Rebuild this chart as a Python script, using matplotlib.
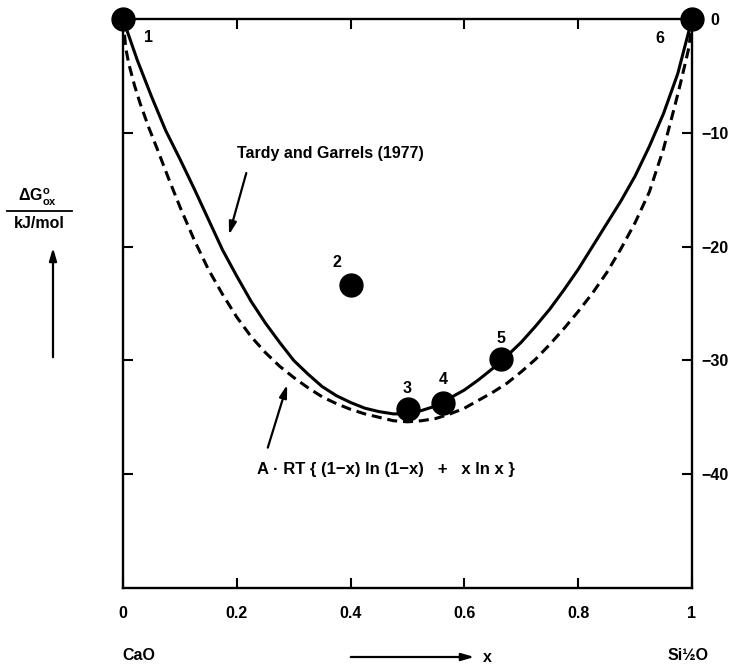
import matplotlib.pyplot as plt
from matplotlib.lines import Line2D

plt.rcParams['font.family'] = ['Liberation Sans', 'DejaVu Sans']
plt.rcParams['font.weight'] = 'bold'

# measured points 1..6
pt_x = [0.0, 0.40, 0.50, 0.562, 0.664, 1.0]
pt_g = [0.0, -23.4, -34.3, -33.7, -29.9, 0.0]
pt_lab = ['1', '2', '3', '4', '5', '6']

# Tardy and Garrels (1977), solid
tg_x = [0.0, 0.025, 0.05, 0.075, 0.10, 0.125, 0.15, 0.175, 0.20, 0.225, 0.25, 0.275, 0.30,
        0.325, 0.35, 0.375, 0.40, 0.425, 0.45, 0.475, 0.50, 0.525, 0.55, 0.575, 0.60, 0.625,
        0.65, 0.675, 0.70, 0.725, 0.75, 0.775, 0.80, 0.825, 0.85, 0.875, 0.90, 0.925, 0.95,
        0.975, 1.0]
tg_g = [0.0, -3.6, -6.8, -9.8, -12.3, -14.9, -17.6, -20.3, -22.6, -24.8, -26.7, -28.4, -30.0,
        -31.2, -32.3, -33.1, -33.7, -34.2, -34.5, -34.7, -34.7, -34.4, -34.0, -33.3, -32.6, -31.7,
        -30.7, -29.6, -28.4, -27.0, -25.5, -23.8, -22.0, -20.0, -18.0, -16.0, -13.8, -11.2, -8.3,
        -4.8, 0.0]

# A*RT{...} curve, dashed
id_x = [0.0, 0.005, 0.01, 0.02, 0.03, 0.045, 0.06, 0.08, 0.10, 0.125, 0.15, 0.175, 0.20,
        0.225, 0.25, 0.275, 0.30, 0.325, 0.35, 0.375, 0.40, 0.425, 0.45, 0.475, 0.50, 0.525,
        0.55, 0.575, 0.60, 0.625, 0.65, 0.675, 0.70, 0.725, 0.75, 0.775, 0.80, 0.825, 0.85,
        0.875, 0.90, 0.925, 0.95, 0.97, 0.98, 0.99, 0.995, 1.0]
id_g = [0.0, -2.6, -3.9, -5.8, -7.4, -9.5, -11.4, -14.0, -16.5, -19.4, -22.0, -24.2, -26.2,
        -27.9, -29.3, -30.5, -31.5, -32.4, -33.2, -33.8, -34.3, -34.7, -35.0, -35.3, -35.4, -35.3,
        -35.1, -34.7, -34.2, -33.5, -32.8, -32.0, -31.0, -29.9, -28.6, -27.2, -25.7, -24.1, -22.3,
        -20.2, -17.9, -15.2, -11.4, -7.6, -5.6, -3.5, -2.4, 0.0]

x_ticks = [0, 0.2, 0.4, 0.6, 0.8, 1]
x_labels = ['0', '0.2', '0.4', '0.6', '0.8', '1']
y_ticks = [0, -10, -20, -30, -40]
y_labels = ['  0', '−10', '−20', '−30', '−40']

fig = plt.figure(figsize=(7.36, 6.67), dpi=100)
ax = fig.add_axes([123 / 736, 79 / 667, 569 / 736, 569 / 667])

ax.plot(tg_x, tg_g, color='k', lw=2.2, solid_joinstyle='round')
ax.plot(id_x, id_g, color='k', lw=2.2, linestyle=(0, (3.3, 1.9)))
ax.plot(pt_x, pt_g, 'o', color='k', ms=16.5, clip_on=False, zorder=5)

lab_off = [(0.044, -1.6), (-0.024, 2.0), (-0.001, 1.8), (0.0, 2.0), (0.0, 1.8), (-0.056, -1.7)]
for xx, gg, t, (dx, dy) in zip(pt_x, pt_g, pt_lab, lab_off):
    ax.text(xx + dx, gg + dy, t, ha='center', va='center', fontsize=11.5)

arr = dict(arrowstyle='-|>,head_length=0.75,head_width=0.22', color='k', lw=1.6)
ax.text(0.200, -11.8, 'Tardy and Garrels (1977)', ha='left', va='center', fontsize=11.5)
ax.annotate('', xy=(0.185, -19.2), xytext=(0.218, -13.3), arrowprops=arr)
ax.text(0.236, -39.6, 'A · RT { (1−x) ln (1−x)   +   x ln x }', ha='left', va='center',
        fontsize=12)
ax.annotate('', xy=(0.290, -31.9), xytext=(0.253, -37.9), arrowprops=arr)

ax.set_xlim(0, 1)
ax.set_ylim(-50, 0)
ax.set_xticks(x_ticks)
ax.set_xticklabels(x_labels)
ax.set_yticks(y_ticks)
ax.set_yticklabels(y_labels)
ax.tick_params(axis='x', direction='in', length=7, width=1.5, top=True, pad=13, labelsize=11.5)
ax.tick_params(axis='y', direction='in', length=7, width=1.5, right=True, left=True,
               labelleft=False, labelright=True, pad=7, labelsize=11.5)
for s in ax.spines.values():
    s.set_linewidth(1.7)

# outside labels
fig.text(38 / 736, 1 - 197 / 667, r'$\mathregular{\Delta G^{o}_{ox}}$', ha='center', va='center',
         fontsize=11.5)
fig.add_artist(Line2D([7 / 736, 72 / 736], [1 - 211 / 667, 1 - 211 / 667], color='k', lw=1.3))
fig.text(39 / 736, 1 - 224 / 667, 'kJ/mol', ha='center', va='center', fontsize=11.5)
ax.annotate('', xy=(53, 667 - 245), xytext=(53, 667 - 360), xycoords='figure pixels',
            textcoords='figure pixels', arrowprops=arr)

fig.text(139 / 736, 1 - 655 / 667, 'CaO', ha='center', va='center', fontsize=11.5)
ax.annotate('', xy=(477, 667 - 657), xytext=(348, 667 - 657), xycoords='figure pixels',
            textcoords='figure pixels', arrowprops=arr)
fig.text(483 / 736, 1 - 657 / 667, 'x', ha='left', va='center', fontsize=11.5)
fig.text(688 / 736, 1 - 655 / 667, 'Si½O', ha='center', va='center', fontsize=11.5)

fig.savefig('out.png', dpi=100)
